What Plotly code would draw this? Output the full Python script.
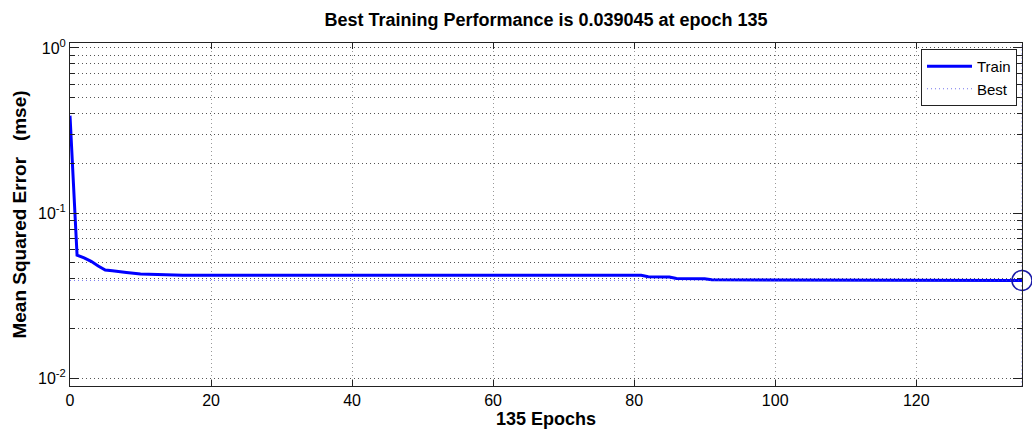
import math
import plotly.graph_objects as go

# ---- data ----
epochs = [0, 1, 2, 3, 4, 5, 6, 7, 8, 10, 15, 16, 60, 81, 82, 85, 86, 90, 91, 106, 107, 123, 124, 135]
train_mse = [0.389, 0.0556, 0.0535, 0.0510, 0.0478, 0.0452, 0.0447, 0.0440, 0.0436, 0.0427,
             0.0424, 0.0420, 0.0419, 0.0419, 0.0411, 0.0410, 0.0401, 0.0400, 0.0394, 0.0393,
             0.0391, 0.03908, 0.039045, 0.039045]
best_epoch = 135
best_perf = 0.039045
x_ticks = [0, 20, 40, 60, 80, 100, 120]
y_decades = [0.01, 0.1, 1]
y_minor = [m * d for d in [0.01, 0.1] for m in range(2, 10)]

title_text = "Best Training Performance is 0.039045 at epoch 135"
x_title = "135 Epochs"
y_title = "Mean Squared Error\u00a0\u00a0\u00a0(mse)"

# ---- figure ----
FONT = "Liberation Sans, Arial, sans-serif"
fig = go.Figure()

fig.add_trace(go.Scatter(x=epochs, y=train_mse, mode="lines", name="Train",
                         line=dict(color="#0000ff", width=3)))
# Best horizontal line
fig.add_trace(go.Scatter(x=[0, best_epoch], y=[best_perf, best_perf], mode="lines", name="Best",
                         line=dict(color="rgba(70,70,230,0.75)", width=1, dash="1px,3px")))
# Best vertical line
fig.add_trace(go.Scatter(x=[best_epoch, best_epoch], y=[0.0089, 1.07], mode="lines",
                         showlegend=False,
                         line=dict(color="rgba(30,30,220,0.85)", width=1, dash="1px,3px")))
# Best marker
fig.add_trace(go.Scatter(x=[best_epoch], y=[best_perf], mode="markers", showlegend=False,
                         marker=dict(symbol="circle-open", size=20,
                                     line=dict(color="#1a1aa8", width=1.5), color="#1a1aa8"),
                         cliponaxis=False))

ytext = [f"10<sup>{int(round(math.log10(v)))}</sup>" for v in y_decades]

fig.update_layout(
    width=1032, height=435,
    margin=dict(l=70, r=10, t=43, b=49),
    paper_bgcolor="white", plot_bgcolor="white",
    font=dict(family=FONT, size=16, color="black"),
    title=dict(text=f"<b>{title_text}</b>", x=(70 + 1022) / 2 / 1032, xanchor="center",
               y=1 - 20 / 435, yanchor="middle", font=dict(size=18, family=FONT)),
    showlegend=True,
    legend=dict(x=(1017 - 70) / 952, xanchor="right", y=(386 - 49) / 343, yanchor="top",
                bgcolor="white", bordercolor="#222", borderwidth=1,
                font=dict(size=15, family=FONT), itemwidth=45, tracegroupgap=0),
)

fig.update_xaxes(
    range=[0, 135], tickvals=x_ticks, ticktext=[str(v) for v in x_ticks],
    showline=True, linecolor="#222", linewidth=1, mirror="ticks",
    ticks="inside", ticklen=6, tickcolor="#222",
    showgrid=True, gridcolor="#999", griddash="1px,3px", gridwidth=1,
    zeroline=False,
    title=dict(text=f"<b>{x_title}</b>", standoff=4, font=dict(size=18, family=FONT)),
    tickfont=dict(size=16, family=FONT),
)
fig.update_yaxes(
    type="log", range=[-2.048, 0.03],
    tickmode="array", tickvals=y_decades, ticktext=ytext,
    showline=True, linecolor="#222", linewidth=1, mirror="ticks",
    ticks="inside", ticklen=9, tickcolor="#222",
    showgrid=True, gridcolor="#555", griddash="1px,3px", gridwidth=1,
    minor=dict(tickmode="array", tickvals=y_minor, ticks="inside", ticklen=5,
               tickcolor="#222", showgrid=True, gridcolor="#555", griddash="1px,3px",
               gridwidth=1),
    zeroline=False,
    title=dict(text=f"<b>{y_title}</b>", standoff=6, font=dict(size=19, family=FONT)),
    tickfont=dict(size=16, family=FONT),
)

fig.write_html("out.html")
